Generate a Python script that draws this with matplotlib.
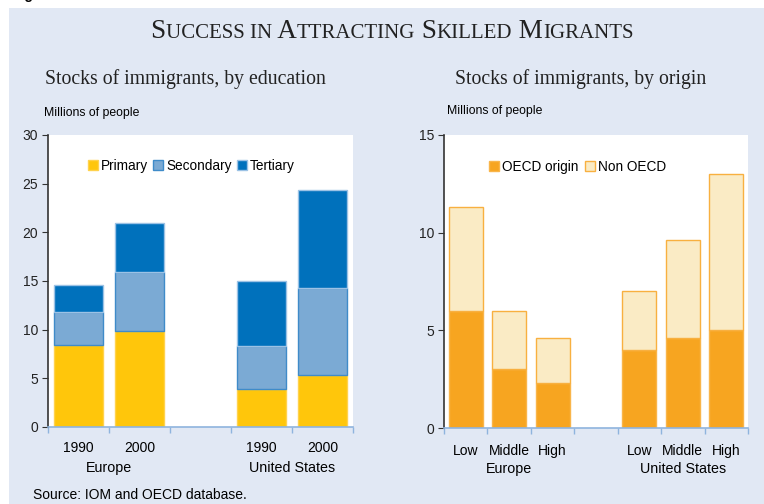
import matplotlib
matplotlib.use("Agg")
import matplotlib.pyplot as plt
from matplotlib.patches import Rectangle, Patch
from matplotlib.transforms import blended_transform_factory

# left panel: stocks by education (millions)
edu_years = ["1990", "2000", "1990", "2000"]
edu_groups = ["Europe", "United States"]
primary = [8.4, 9.9, 3.95, 5.3]
secondary = [3.45, 6.0, 4.4, 9.0]
tertiary = [2.7, 5.05, 6.6, 10.1]

# right panel: stocks by origin (millions)
orig_levels = ["Low", "Middle", "High", "Low", "Middle", "High"]
oecd = [6.0, 3.0, 2.3, 4.0, 4.6, 5.0]
non_oecd = [5.3, 3.0, 2.3, 3.0, 5.0, 8.0]

BG = "#E1E8F4"
YEL, LBLUE, DBLUE = "#FFC60B", "#7BAAD4", "#0071BC"
ORANGE, CREAM = "#F7A520", "#FAEBC5"
AXBLUE = "#8FB4DE"

W, H = 764, 504
fig = plt.figure(figsize=(W / 100, H / 100), dpi=100)
fig.patch.set_facecolor("white")
fig.patches.append(Rectangle((9 / W, 0), 1, (H - 8) / H, transform=fig.transFigure,
                             facecolor=BG, edgecolor="none", zorder=-10))

sans = "Liberation Sans"
serif = "Liberation Serif"
fig.text(12 / W, 1 + 1 / H, "Figure 6", fontsize=10, fontweight="bold", family=sans,
         va="baseline", ha="left")

# title in small caps
pieces = [("S", 1), ("UCCESS IN", 0), (" A", 1), ("TTRACTING", 0),
          (" S", 1), ("KILLED", 0), (" M", 1), ("IGRANTS", 0)]
fig.canvas.draw()
r = fig.canvas.get_renderer()
txts = []
for s, big in pieces:
    t = fig.text(0, 1 - 38 / H, s, fontsize=19.5 if big else 15, family=serif,
                 color="#222222", va="baseline", ha="left")
    txts.append(t)
widths = [t.get_window_extent(r).width for t in txts]
x = 392 - sum(widths) / 2
for t, w in zip(txts, widths):
    t.set_x(x / W)
    x += w

fig.text(45 / W, 1 - 84 / H, "Stocks of immigrants, by education", fontsize=14.2,
         family=serif, color="#222222", va="baseline")
fig.text(455 / W, 1 - 84 / H, "Stocks of immigrants, by origin", fontsize=14.2,
         family=serif, color="#222222", va="baseline")
fig.text(44 / W, 1 - 116 / H, "Millions of people", fontsize=8.8, family=sans, va="baseline")
fig.text(447 / W, 1 - 114 / H, "Millions of people", fontsize=8.8, family=sans, va="baseline")
fig.text(33 / W, 2 / H, "Source: IOM and OECD database.", fontsize=10,
         family=sans, va="bottom")


def style_axes(ax, n, ymax, step):
    ax.set_facecolor("white")
    ax.set_xlim(-0.5, n - 0.5)
    ax.set_ylim(0, ymax)
    ax.set_yticks(range(0, ymax + 1, step))
    ax.set_xticks([i - 0.5 for i in range(n + 1)])
    ax.set_xticklabels([])
    for s in ["top", "right"]:
        ax.spines[s].set_visible(False)
    ax.spines["left"].set_color("#333333")
    ax.spines["left"].set_linewidth(1.2)
    ax.spines["bottom"].set_color(AXBLUE)
    ax.spines["bottom"].set_linewidth(1.2)
    ax.tick_params(axis="y", length=4, color="#333333", labelsize=10, pad=3)
    ax.tick_params(axis="x", length=4, color=AXBLUE, width=1)
    for lab in ax.get_yticklabels():
        lab.set_family(sans)
        lab.set_color("#222222")


# left chart
ax1 = fig.add_axes([48 / W, 77 / H, 305 / W, 292 / H])
style_axes(ax1, 5, 30, 5)
pos1 = [0, 1, 3, 4]
bw = 0.79
b1 = [p + s for p, s in zip(primary, secondary)]
ax1.bar(pos1, primary, bw, color=YEL, edgecolor="#FFD24D", linewidth=1)
ax1.bar(pos1, secondary, bw, bottom=primary, color=LBLUE, edgecolor="#3F8BC9",
        linewidth=1)
ax1.bar(pos1, tertiary, bw, bottom=b1, color=DBLUE, edgecolor="#9CC2E5",
        linewidth=1)
h1 = [Patch(facecolor=YEL, edgecolor="#FFD24D"),
      Patch(facecolor=LBLUE, edgecolor="#3F8BC9"),
      Patch(facecolor=DBLUE, edgecolor="#9CC2E5")]
ax1.legend(h1, ["Primary", "Secondary", "Tertiary"], ncol=3, loc="center",
           bbox_to_anchor=(0.47, 0.894), frameon=False, handlelength=0.75,
           handleheight=0.75, handletextpad=0.2, columnspacing=0.4,
           prop={"family": sans, "size": 9.8})
tr1 = blended_transform_factory(ax1.transData, ax1.transAxes)
for p, y in zip(pos1, edu_years):
    ax1.text(p, -0.072, y, transform=tr1, ha="center", va="center", fontsize=10,
             family=sans)
for c, g in zip([0.5, 3.5], edu_groups):
    ax1.text(c, -0.139, g, transform=tr1, ha="center", va="center", fontsize=10.3,
             family=sans)

# right chart
ax2 = fig.add_axes([444 / W, 76 / H, 304 / W, 293 / H])
style_axes(ax2, 7, 15, 5)
pos2 = [0, 1, 2, 4, 5, 6]
bw2 = 0.78
ax2.bar(pos2, oecd, bw2, color=ORANGE, edgecolor="#F9B54A", linewidth=1)
ax2.bar(pos2, non_oecd, bw2, bottom=oecd, color=CREAM, edgecolor="#F8B040", linewidth=1)
h2 = [Patch(facecolor=ORANGE, edgecolor="#F9B54A"),
      Patch(facecolor=CREAM, edgecolor="#F8B040")]
ax2.legend(h2, ["OECD origin", "Non OECD"], ncol=2, loc="center",
           bbox_to_anchor=(0.44, 0.891), frameon=False, handlelength=0.75,
           handleheight=0.75, handletextpad=0.2, columnspacing=0.5,
           prop={"family": sans, "size": 9.8})
tr2 = blended_transform_factory(ax2.transData, ax2.transAxes)
for p, lv in zip(pos2, orig_levels):
    ax2.text(p, -0.077, lv, transform=tr2, ha="center", va="center", fontsize=10,
             family=sans)
for c, g in zip([1, 5], edu_groups):
    ax2.text(c, -0.139, g, transform=tr2, ha="center", va="center", fontsize=10.3,
             family=sans)

fig.savefig("out.png", dpi=100, facecolor=fig.get_facecolor())
